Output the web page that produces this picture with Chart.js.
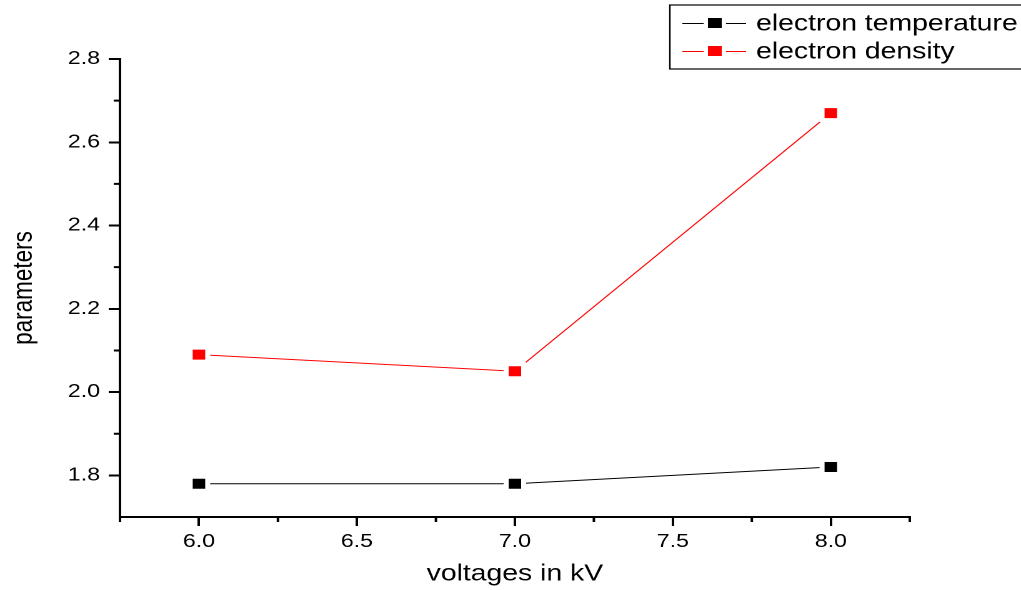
<!DOCTYPE html>
<html>
<head>
<meta charset="utf-8">
<script src="https://cdn.jsdelivr.net/npm/chart.js@4/dist/chart.umd.min.js"></script>
<style>
    html, body { margin: 0; padding: 0; background: #fff; overflow: hidden; }
    #wrap { width: 817px; height: 590px; transform: scaleX(1.2497); transform-origin: 0 0; }
</style>
</head>
<body>
<div id="wrap"><canvas id="chart" width="817" height="590"></canvas></div>
<script>
const voltages = [6.0, 7.0, 8.0];
const electronTemperature = [1.78, 1.78, 1.82];
const electronDensity = [2.09, 2.05, 2.67];

const xTicks = [6.0, 6.5, 7.0, 7.5, 8.0];
const xMinorTicks = [5.75, 6.25, 6.75, 7.25, 7.75, 8.25];
const yTicks = [1.8, 2.0, 2.2, 2.4, 2.6, 2.8];
const yMinorTicks = [1.9, 2.1, 2.3, 2.5, 2.7];

const seriesNames = ['electron temperature', 'electron density'];
const seriesColors = ['#000000', '#ff0000'];

const FONT = "'Liberation Sans', Arial, sans-serif";

function toPoints(ys) {
    return voltages.map((v, i) => ({ x: v, y: ys[i] }));
}

// minor ticks + legend box drawn on top
const extrasPlugin = {
    id: 'extras',
    afterDraw(chart) {
        const ctx = chart.ctx;
        const area = chart.chartArea;
        const xs = chart.scales.x;
        const ys = chart.scales.y;
        ctx.save();
        ctx.strokeStyle = '#000';
        ctx.lineWidth = 2;
        ctx.beginPath();
        yMinorTicks.forEach(v => {
            const py = ys.getPixelForValue(v);
            ctx.moveTo(area.left - 5, py);
            ctx.lineTo(area.left, py);
        });
        xMinorTicks.forEach(v => {
            const px = xs.getPixelForValue(v);
            ctx.moveTo(px, area.bottom);
            ctx.lineTo(px, area.bottom + 5);
        });
        ctx.stroke();

        // legend
        ctx.lineWidth = 1.2;
        ctx.strokeStyle = '#000';
        ctx.strokeRect(536, 5, 300, 64);
        const rows = [23, 51];
        ctx.font = '22.7px ' + FONT;
        ctx.textBaseline = 'middle';
        ctx.textAlign = 'left';
        rows.forEach((ry, i) => {
            ctx.strokeStyle = seriesColors[i];
            ctx.fillStyle = seriesColors[i];
            ctx.lineWidth = 1;
            ctx.beginPath();
            ctx.moveTo(546, ry + 0.5);
            ctx.lineTo(563, ry + 0.5);
            ctx.moveTo(581, ry + 0.5);
            ctx.lineTo(597, ry + 0.5);
            ctx.stroke();
            ctx.fillRect(566.5, ry - 5, 11, 10);
            ctx.fillStyle = '#000';
            ctx.fillText(seriesNames[i], 605, ry + 1);
        });
        ctx.restore();
    }
};

const datasetStyle = (color) => ({
    borderColor: color,
    backgroundColor: color,
    borderWidth: 1,
    pointStyle: 'rect',
    pointRadius: 9.9,
    pointHoverRadius: 9.9,
    pointBackgroundColor: color,
    pointBorderColor: '#ffffff',
    pointBorderWidth: 4,
    tension: 0
});

new Chart(document.getElementById('chart'), {
    type: 'line',
    data: {
        datasets: [
            Object.assign({ label: seriesNames[0], data: toPoints(electronTemperature) }, datasetStyle(seriesColors[0])),
            Object.assign({ label: seriesNames[1], data: toPoints(electronDensity) }, datasetStyle(seriesColors[1]))
        ]
    },
    options: {
        responsive: false,
        devicePixelRatio: 2,
        animation: false,
        layout: { padding: { top: 59, right: 89, left: 0, bottom: 0 } },
        plugins: {
            legend: { display: false },
            tooltip: { enabled: false }
        },
        scales: {
            x: {
                type: 'linear',
                min: 5.75,
                max: 8.25,
                afterBuildTicks: s => { s.ticks = xTicks.map(v => ({ value: v })); },
                afterFit: s => { s.height = 73; },
                grid: { drawOnChartArea: false, drawTicks: true, tickLength: 9, color: '#000', lineWidth: 2 },
                border: { display: true, color: '#000', width: 2 },
                ticks: {
                    color: '#000',
                    padding: 5,
                    maxRotation: 0,
                    font: { family: FONT, size: 18.5 },
                    callback: v => Number(v).toFixed(1)
                },
                title: {
                    display: true,
                    text: 'voltages in kV',
                    color: '#000',
                    font: { family: FONT, size: 22.7 },
                    padding: { top: 0, bottom: 2 }
                }
            },
            y: {
                type: 'linear',
                min: 1.7,
                max: 2.8,
                afterBuildTicks: s => { s.ticks = yTicks.map(v => ({ value: v })); },
                afterFit: s => { s.width = 96; },
                grid: { drawOnChartArea: false, drawTicks: true, tickLength: 9, color: '#000', lineWidth: 2 },
                border: { display: true, color: '#000', width: 2 },
                ticks: {
                    color: '#000',
                    padding: 7,
                    font: { family: FONT, size: 18.5 },
                    callback: v => Number(v).toFixed(1)
                },
                title: {
                    display: true,
                    text: 'parameters',
                    color: '#000',
                    font: { family: FONT, size: 22.5 },
                    padding: { top: 6, bottom: 0 }
                }
            }
        }
    },
    plugins: [extrasPlugin]
});
</script>
</body>
</html>
